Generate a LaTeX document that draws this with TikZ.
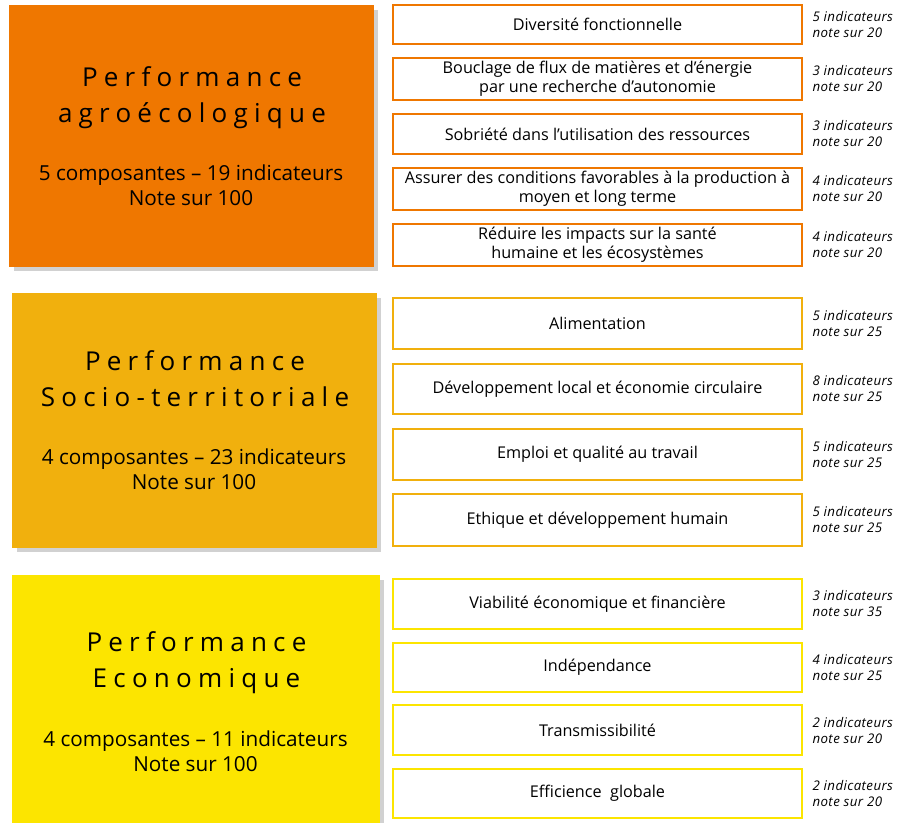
\documentclass[tikz,border=0pt]{standalone}
\usepackage{fontspec}
\setmainfont{Open Sans}
\newfontfamily\titlefont[LetterSpace=24]{Open Sans}
\newfontfamily\notefont[LetterSpace=3]{Open Sans}
\usetikzlibrary{shadows,positioning}

\definecolor{agroOrange}{HTML}{EF7700}
\definecolor{socioGold}{HTML}{F1B00D}
\definecolor{ecoYellow}{HTML}{FCE500}

\begin{document}
\begin{tikzpicture}[x=1pt,y=-1pt]

\tikzset{PillarStyle/.style = {rectangle, fill=#1, draw=#1, inner sep=0pt,
    drop shadow={shadow xshift=5pt, shadow yshift=-5pt, fill=black!18, opacity=1}}}
\tikzset{TitleStyle/.style = {align=center, font=\titlefont\fontsize{26}{36}\selectfont}}
\tikzset{CountStyle/.style = {align=center, font=\fontsize{20.7}{25}\selectfont}}
\tikzset{CompStyle/.style = {rectangle, draw=#1, line width=2pt, fill=white, inner sep=0pt,
    minimum width=409pt, align=center, font=\fontsize{16.2}{19}\selectfont}}
\tikzset{NoteStyle/.style = {align=left, font=\notefont\itshape\fontsize{13.3}{16}\selectfont}}

\useasboundingbox (0,0) rectangle (904,822);

% agroecologie
\node[PillarStyle=agroOrange, minimum width=364pt, minimum height=261pt] (agro) at (191,135.5) {};
\node[TitleStyle] (agroTitle) at (192,98) {Performance\\agroécologique};
\node[CountStyle] (agroCount) at (191,185.6) {5 composantes – 19 indicateurs\\Note sur 100};

\node[CompStyle=agroOrange, minimum height=39pt] (agro1) at (597.5,24.5) {Diversité fonctionnelle};
\node[CompStyle=agroOrange, minimum height=42pt] (agro2) at (597.5,79) {Bouclage de flux de matières et d'énergie\\par une recherche d'autonomie};
\node[CompStyle=agroOrange, minimum height=40pt] (agro3) at (597.5,134) {Sobriété dans l'utilisation des ressources};
\node[CompStyle=agroOrange, minimum height=42pt] (agro4) at (597.5,189) {Assurer des conditions favorables à la production à\\moyen et long terme};
\node[CompStyle=agroOrange, minimum height=42pt] (agro5) at (597.5,245) {Réduire les impacts sur la santé\\humaine et les écosystèmes};

\node[NoteStyle, right=6pt of agro1] (agro1note) {5 indicateurs\\note sur 20};
\node[NoteStyle, right=6pt of agro2] (agro2note) {3 indicateurs\\note sur 20};
\node[NoteStyle, right=6pt of agro3] (agro3note) {3 indicateurs\\note sur 20};
\node[NoteStyle, right=6pt of agro4] (agro4note) {4 indicateurs\\note sur 20};
\node[NoteStyle, right=6pt of agro5] (agro5note) {4 indicateurs\\note sur 20};

% socio-territorial
\node[PillarStyle=socioGold, minimum width=364pt, minimum height=254pt] (socio) at (194,420) {};
\node[TitleStyle] (socioTitle) at (195,379) {Performance\\Socio-territoriale};
\node[CountStyle] (socioCount) at (194,469) {4 composantes – 23 indicateurs\\Note sur 100};

\node[CompStyle=socioGold, minimum height=51pt] (socio1) at (597.5,323.5) {Alimentation};
\node[CompStyle=socioGold, minimum height=50pt] (socio2) at (597.5,389) {Développement local et économie circulaire};
\node[CompStyle=socioGold, minimum height=51pt] (socio3) at (597.5,454.5) {Emploi et qualité au travail};
\node[CompStyle=socioGold, minimum height=52pt] (socio4) at (597.5,520) {Ethique et développement humain};

\node[NoteStyle, right=6pt of socio1] (socio1note) {5 indicateurs\\note sur 25};
\node[NoteStyle, right=6pt of socio2] (socio2note) {8 indicateurs\\note sur 25};
\node[NoteStyle, right=6pt of socio3] (socio3note) {5 indicateurs\\note sur 25};
\node[NoteStyle, right=6pt of socio4] (socio4note) {5 indicateurs\\note sur 25};

% economie
\node[PillarStyle=ecoYellow, minimum width=367pt, minimum height=249pt] (eco) at (195.5,699.5) {};
\node[TitleStyle] (ecoTitle) at (196.5,663) {Performance\\Economique};
\node[CountStyle] (ecoCount) at (195.5,751) {4 composantes – 11 indicateurs\\Note sur 100};

\node[CompStyle=ecoYellow, minimum height=50pt] (eco1) at (597.5,604) {Viabilité économique et financière};
\node[CompStyle=ecoYellow, minimum height=49pt] (eco2) at (597.5,667.5) {Indépendance};
\node[CompStyle=ecoYellow, minimum height=50pt] (eco3) at (597.5,730) {Transmissibilité};
\node[CompStyle=ecoYellow, minimum height=49pt] (eco4) at (597.5,793.5) {Efficience\ \ globale};

\node[NoteStyle, right=6pt of eco1] (eco1note) {3 indicateurs\\note sur 35};
\node[NoteStyle, right=6pt of eco2] (eco2note) {4 indicateurs\\note sur 25};
\node[NoteStyle, right=6pt of eco3] (eco3note) {2 indicateurs\\note sur 20};
\node[NoteStyle, right=6pt of eco4] (eco4note) {2 indicateurs\\note sur 20};

\end{tikzpicture}
\end{document}
